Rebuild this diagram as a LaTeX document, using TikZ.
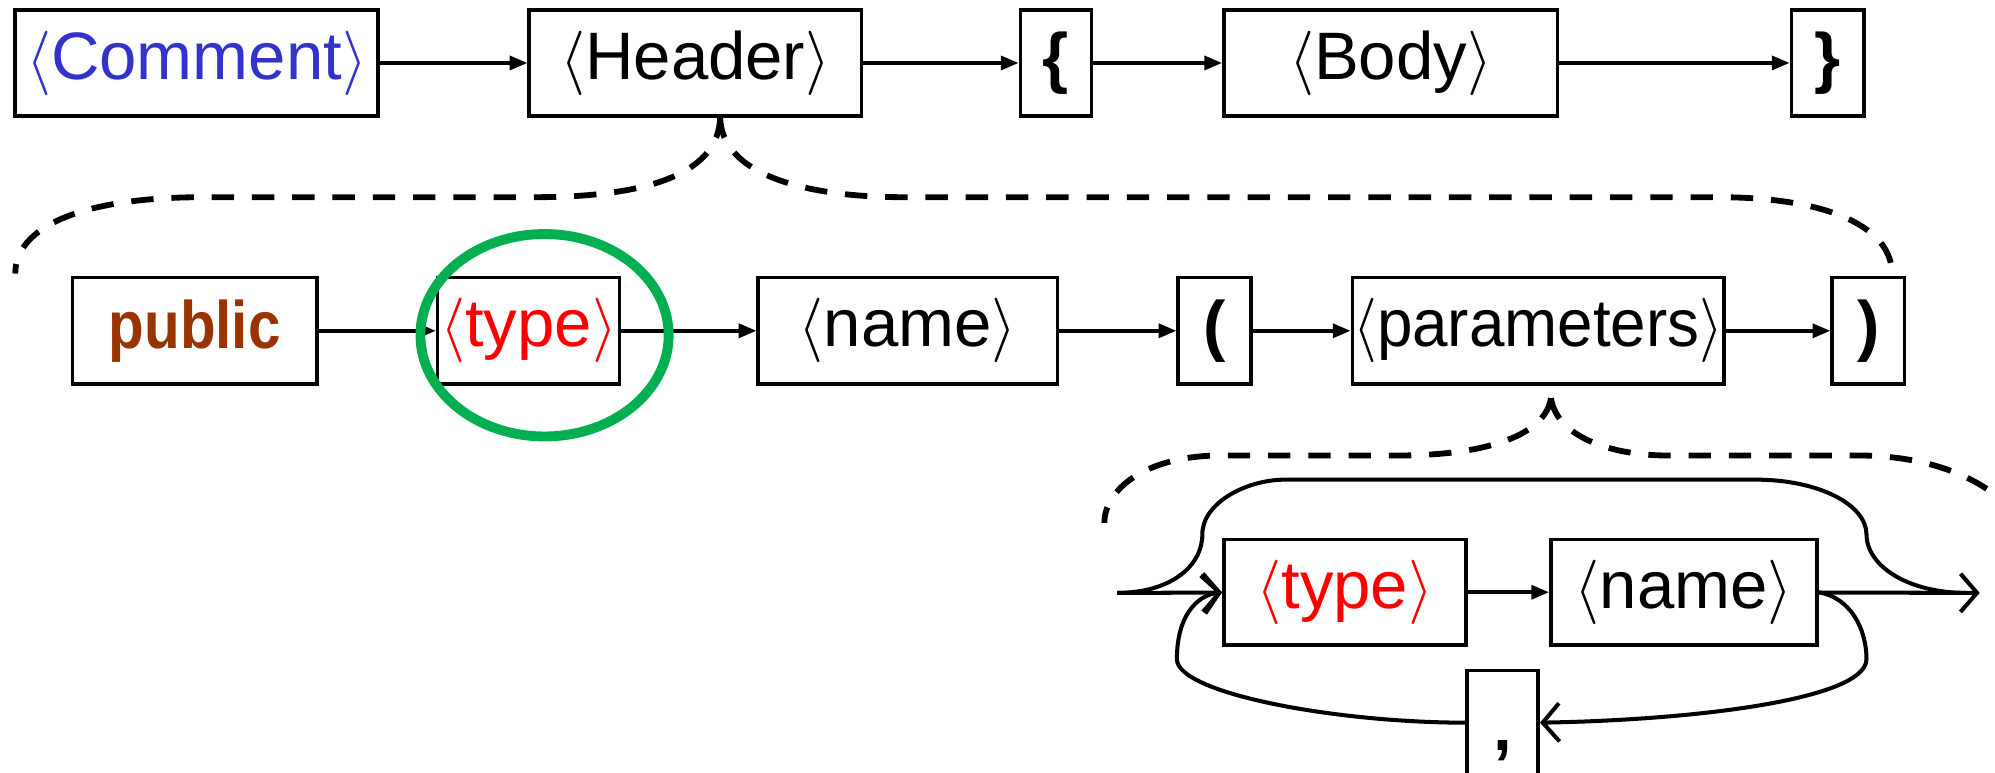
\documentclass[tikz,border=0pt]{standalone}
\usepackage{fontspec}
\setmainfont{Liberation Sans}
\usetikzlibrary{arrows.meta}
\definecolor{cmtblue}{RGB}{51,51,204}
\definecolor{kwbrown}{RGB}{153,51,0}
\definecolor{circgreen}{RGB}{0,176,80}

\begin{document}
\begin{tikzpicture}
  [x=0.01cm, y=-0.01cm,
   box/.style={draw, line width=0.8pt, inner sep=0pt, minimum height=0.83cm,
     font=\fontsize{15}{17}\selectfont},
   arr/.style={line width=0.8pt, -{Triangle[length=1.4mm,width=1.1mm]}},
   barb/.style={line width=0.9pt, -{Straight Barb[length=1.3mm,width=3mm]}},
   curve/.style={line width=0.9pt},
   dashcurve/.style={line width=1.3pt, dash pattern=on 5pt off 4pt}]

  \newcommand{\nt}[1]{$\langle$#1$\rangle$}

  \useasboundingbox (0,0) rectangle (1568,607);

  % top row
  \node (comment) at (154.5,49.5) [box, minimum width=2.85cm, text=cmtblue] {\nt{Comment}};
  \node (header) at (546.5,49.5) [box, minimum width=2.61cm] {\nt{Header}};
  \node (lbrace) at (830,49.5) [box, minimum width=0.56cm] {\textbf{\{}};
  \node (body) at (1093,49.5) [box, minimum width=2.62cm] {\nt{Body}};
  \node (rbrace) at (1436.5,49.5) [box, minimum width=0.57cm] {\textbf{\}}};

  \draw[arr] (comment) -- (header);
  \draw[arr] (header) -- (lbrace);
  \draw[arr] (lbrace) -- (body);
  \draw[arr] (body) -- (rbrace);

  % header expanded
  \draw[dashcurve] (566,91) .. controls (566,140) and (500,155) .. (420,155)
    -- (160,155) .. controls (60,155) and (12,180) .. (12,215);
  \draw[dashcurve] (566,91) .. controls (566,140) and (640,155) .. (710,155)
    -- (1350,155) .. controls (1440,155) and (1487,180) .. (1487,215);

  \node (public) at (153,260) [box, minimum width=1.92cm, minimum height=0.84cm,
    text=kwbrown, font=\fontsize{15}{17}\selectfont\bfseries] {\scalebox{0.87}[1]{public}};
  \node (type) at (415.5,260) [box, minimum width=1.43cm, minimum height=0.84cm, text=red] {\nt{type}};
  \node (name) at (713.5,260) [box, minimum width=2.35cm, minimum height=0.84cm] {\nt{name}};
  \node (lparen) at (954.5,260) [box, minimum width=0.57cm, minimum height=0.84cm] {\textbf{(}};
  \node (params) at (1209,260) [box, minimum width=2.92cm, minimum height=0.84cm]
    {\scalebox{0.95}[1]{\nt{parameters}}};
  \node (rparen) at (1468.5,260) [box, minimum width=0.57cm, minimum height=0.84cm] {\textbf{)}};

  \draw[arr] (public) -- (type);
  \draw[arr] (type) -- (name);
  \draw[arr] (name) -- (lparen);
  \draw[arr] (lparen) -- (params);
  \draw[arr] (params) -- (rparen);

  \draw[circgreen, line width=2.2pt] (428,263.5) ellipse [x radius=0.975cm, y radius=0.795cm];

  % parameters expanded
  \draw[dashcurve] (1219,313) .. controls (1214,345) and (1160,358) .. (1100,358)
    -- (960,358) .. controls (900,358) and (868,385) .. (868,411);
  \draw[dashcurve] (1219,313) .. controls (1224,345) and (1270,358) .. (1310,358)
    -- (1460,358) .. controls (1515,358) and (1560,375) .. (1585,405);

  \coordinate (entry) at (878,466);
  \coordinate (exit) at (1556,466);

  \node (type2) at (1057,465.5) [box, minimum width=1.90cm, text=red] {\nt{type}};
  \node (name2) at (1323.5,465.5) [box, minimum width=2.09cm] {\nt{name}};
  \node (comma) at (1181,590) [box, minimum width=0.56cm, minimum height=1.26cm] {\textbf{,}};

  \draw[barb] (entry) -- (type2);
  \draw[arr] (type2) -- (name2);
  \draw[barb] (name2) -- (exit);
  \draw[curve] (entry) .. controls (920,466) and (945,445) .. (945,420)
    .. controls (945,395) and (980,377) .. (1010,377) -- (1380,377)
    .. controls (1430,377) and (1467,397) .. (1467,420)
    .. controls (1467,445) and (1500,466) .. (1545,466);
  \draw[barb] (name2.east) .. controls (1455,470) and (1467,495) .. (1467,518)
    .. controls (1467,550) and (1330,566) .. (comma.east |- 0,568);
  \draw[barb] (comma.west |- 0,568) .. controls (1050,568) and (925,545) .. (925,518)
    .. controls (925,485) and (940,468) .. (type2.west);

\end{tikzpicture}
\end{document}
